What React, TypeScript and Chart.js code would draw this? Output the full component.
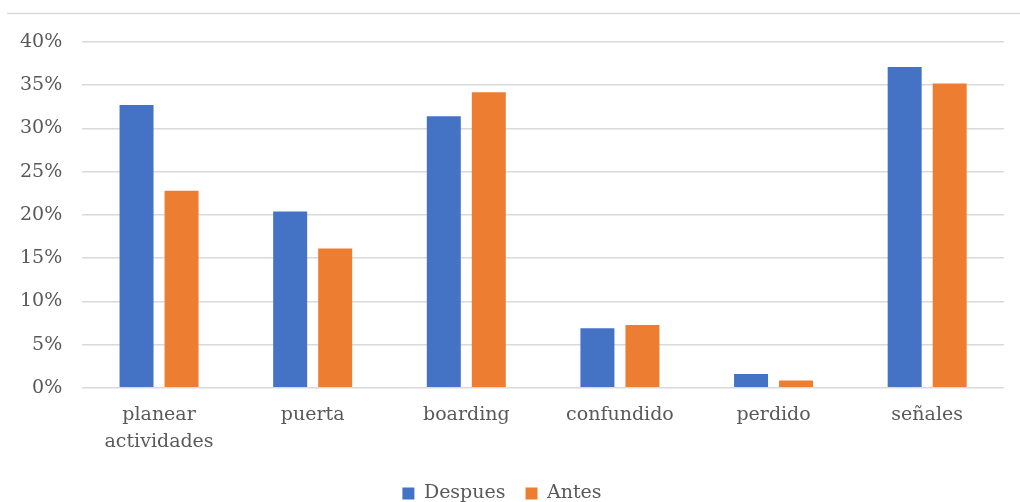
import React, { useEffect, useRef } from "react";
import { Chart, registerables } from "chart.js";

Chart.register(...registerables);

const categories: (string | string[])[] = [
  ["planear", "actividades"],
  "puerta",
  "boarding",
  "confundido",
  "perdido",
  "señales",
];
const despues = [32.7, 20.4, 31.4, 6.9, 1.6, 37.1];
const antes = [22.8, 16.1, 34.2, 7.25, 0.85, 35.2];
const yTicks = [0, 5, 10, 15, 20, 25, 30, 35, 40];

const FONT = "'DejaVu Serif', serif";
const TEXT = "#595959";
const GRID = "#d9d9d9";

// Thin rule across the top of the figure
const topRule = {
  id: "topRule",
  afterDraw(chart: Chart) {
    const ctx = chart.ctx;
    ctx.save();
    ctx.strokeStyle = GRID;
    ctx.lineWidth = 1.5;
    ctx.beginPath();
    ctx.moveTo(7, 13.5);
    ctx.lineTo(chart.width, 13.5);
    ctx.stroke();
    ctx.restore();
  },
};

export default function App() {
  const ref = useRef<HTMLCanvasElement>(null);

  useEffect(() => {
    document.body.style.margin = "0";
    const chart = new Chart(ref.current!, {
      type: "bar",
      data: {
        labels: categories,
        datasets: [
          { label: "Despues", data: despues, backgroundColor: "#4472c4" },
          { label: "Antes", data: antes, backgroundColor: "#ed7d31" },
        ],
      },
      options: {
        animation: false,
        responsive: false,
        datasets: { bar: { categoryPercentage: 0.586, barPercentage: 0.755 } },
        layout: { padding: { top: 42, right: 16, left: 0, bottom: -11 } },
        scales: {
          x: {
            grid: { display: false },
            border: { display: false },
            afterFit(axis: any) {
              axis.height += 3;
            },
            ticks: {
              color: TEXT,
              font: { family: FONT, size: 19, lineHeight: 1.4 },
              padding: 6,
            },
          },
          y: {
            min: 0,
            max: 40,
            afterBuildTicks(axis: any) {
              axis.ticks = yTicks.map((v) => ({ value: v }));
            },
            grid: { color: GRID, lineWidth: 1.5, drawTicks: false },
            border: { display: false },
            ticks: {
              color: TEXT,
              font: { family: FONT, size: 19 },
              padding: 20,
              callback: (v: any) => v + "%",
            },
          },
        },
        plugins: {
          legend: {
            position: "bottom",
            labels: {
              color: TEXT,
              font: { family: FONT, size: 19 },
              boxWidth: 12,
              boxHeight: 12,
              padding: 20,
            },
          },
          tooltip: { enabled: false },
        },
      },
      plugins: [topRule],
    });
    return () => chart.destroy();
  }, []);

  return <canvas ref={ref} width={1020} height={502} style={{ display: "block" }} />;
}
